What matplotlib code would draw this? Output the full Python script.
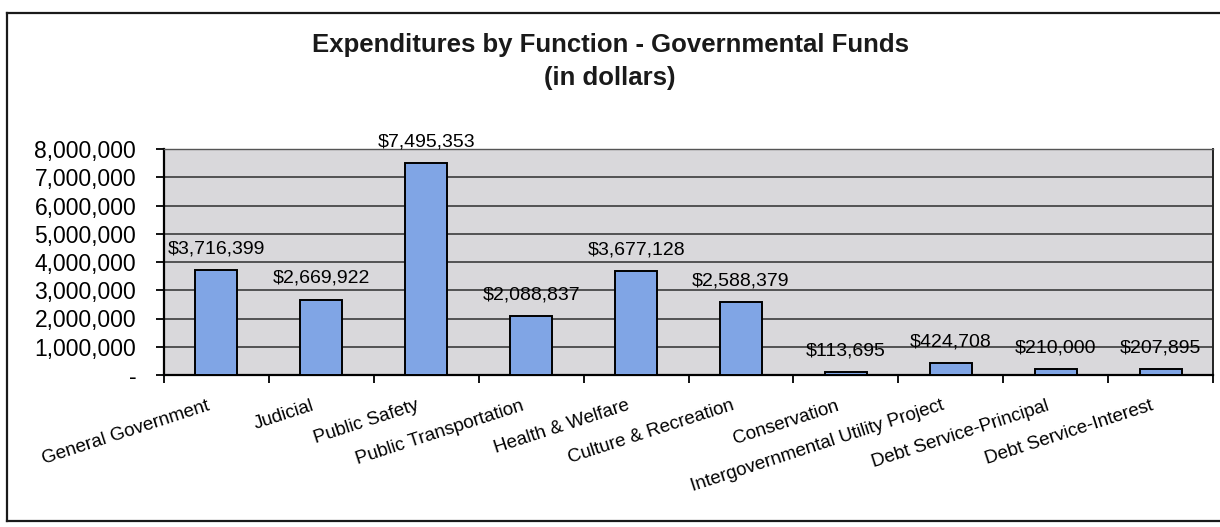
import matplotlib
matplotlib.use('Agg')
import matplotlib.pyplot as plt
import matplotlib.transforms as mtransforms
from matplotlib.lines import Line2D
from matplotlib.ticker import FuncFormatter

plt.rcParams['font.family'] = ['Liberation Sans', 'DejaVu Sans']

categories = ['General Government', 'Judicial', 'Public Safety', 'Public Transportation',
              'Health & Welfare', 'Culture & Recreation', 'Conservation',
              'Intergovernmental Utility Project', 'Debt Service-Principal',
              'Debt Service-Interest']
expenditures = [3716399, 2669922, 7495353, 2088837, 3677128, 2588379,
                113695, 424708, 210000, 207895]
y_ticks = [0, 1000000, 2000000, 3000000, 4000000, 5000000, 6000000, 7000000, 8000000]


def money_axis(v, pos):
    if v == 0:
        return '-'
    return '{:,.0f}'.format(v)


fig = plt.figure(figsize=(12.2, 5.27), dpi=100)
ax = fig.add_axes([164 / 1220, 1 - 375 / 527, 1049 / 1220, 226 / 527])

ax.set_facecolor('#d9d8db')
x = list(range(len(categories)))
bars = ax.bar(x, expenditures, width=0.4, color='#80a5e5', edgecolor='black',
              linewidth=1.4, zorder=3)

for xi, val in zip(x, expenditures):
    ax.annotate('${:,.0f}'.format(val), (xi, val), xytext=(0, 12),
                textcoords='offset points', ha='center', va='baseline',
                fontsize=14, zorder=4, annotation_clip=False)

ax.set_xlim(-0.5, len(categories) - 0.5)
ax.set_ylim(0, 8000000)
ax.set_yticks(y_ticks)
ax.yaxis.set_major_formatter(FuncFormatter(money_axis))
ax.grid(axis='y', color='#2e2e2e', linewidth=1.1, zorder=1)

# tick marks sit between the categories, names go on minor ticks
ax.set_xticks([i - 0.5 for i in range(len(categories) + 1)])
ax.set_xticklabels([])
ax.set_xticks(x, minor=True)
ax.set_xticklabels(categories, minor=True, rotation=18, ha='right', va='top',
                   rotation_mode='anchor', fontsize=13.5)
ax.tick_params(axis='x', which='major', length=6, width=1.3, direction='out')
ax.tick_params(axis='x', which='minor', length=0, pad=16)
ax.tick_params(axis='y', length=6, width=1.3, pad=14, labelsize=16.5)

shift = mtransforms.ScaledTranslation(-0.1, 0, fig.dpi_scale_trans)
for lab in ax.get_xticklabels(minor=True):
    lab.set_transform(lab.get_transform() + shift)

for side in ['left', 'bottom']:
    ax.spines[side].set_linewidth(1.6)
    ax.spines[side].set_color('black')
ax.spines['top'].set_color('#555555')
ax.spines['top'].set_linewidth(1.0)
ax.spines['right'].set_color('#222222')
ax.spines['right'].set_linewidth(1.4)

fig.text(0.5, 1 - 45 / 527, 'Expenditures by Function - Governmental Funds',
         ha='center', va='center', fontsize=18.5, fontweight='bold', color='#1a1a1a')
fig.text(0.5, 1 - 78 / 527, '(in dollars)', ha='center', va='center',
         fontsize=18.5, fontweight='bold', color='#1a1a1a')

# outer chart border
fx0, fx1 = 7 / 1220, 1.01
fy0, fy1 = 1 - 521 / 527, 1 - 13 / 527
for xs, ys in [([fx0, fx1], [fy1, fy1]), ([fx0, fx1], [fy0, fy0]), ([fx0, fx0], [fy0, fy1])]:
    fig.add_artist(Line2D(xs, ys, color='#1a1a1a', linewidth=1.6, transform=fig.transFigure))

plt.savefig('out.png', dpi=100)
